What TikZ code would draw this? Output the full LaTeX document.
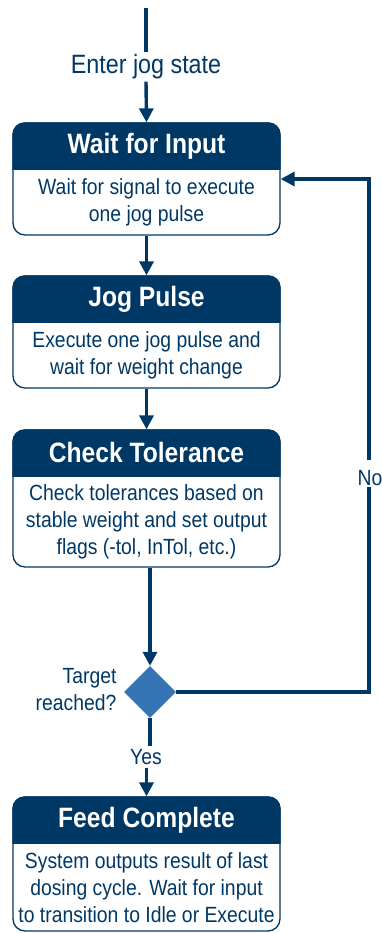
\documentclass[tikz,border=0pt]{standalone}
\usepackage{fontspec}
\setmainfont[FakeStretch=0.88]{Liberation Sans}
\usetikzlibrary{arrows.meta,calc,shapes.geometric}
\definecolor{navy}{HTML}{003865}
\definecolor{diablue}{HTML}{3574B4}
\newcommand\stbox[5]{%
  \node[box,minimum height=#3pt] (#1) at (146.5,#2) {};
  \begin{scope}
    \clip (#1.north west) rectangle ($(#1.north east)+(0,47)$);
    \fill[navy,rounded corners=12pt] (#1.north west) rectangle (#1.south east);
  \end{scope}
  \node[ttl] (#1t) at ($(#1.north)+(0,23.5)$) {#4};
  \node[desc] (#1d) at ($(#1.center)+(0,23.5)$) {#5};
}
\begin{document}
\begin{tikzpicture}[x=1pt,y=-1pt,
  box/.style={draw=navy,line width=1.3pt,rounded corners=12pt,minimum width=267pt,inner sep=0pt},
  ttl/.style={text=white,font=\fontsize{28}{31}\selectfont\bfseries},
  desc/.style={text=navy,font=\fontsize{22}{27}\selectfont,align=center},
  lbl/.style={text=navy,font=\fontsize{22}{27}\selectfont},
  biglbl/.style={text=navy,font=\fontsize{26.5}{30}\selectfont},
  flow/.style={draw=navy,line width=3.4pt},
  arr/.style={flow,-{Triangle[length=14pt,width=14pt]}},
]
\useasboundingbox (0,0) rectangle (381,933);

\stbox{b1}{179}{112}{Wait for Input}{Wait for signal to execute\\one jog pulse}
\stbox{b2}{332}{112}{Jog Pulse}{Execute one jog pulse and\\wait for weight change}
\stbox{b3}{498.5}{137}{Check Tolerance}{Check tolerances based on\\stable weight and set output\\flags (-tol, InTol, etc.)}
\stbox{b4}{864}{134}{Feed Complete}{System outputs result of last\\dosing cycle. Wait for input\\to transition to Idle or Execute}

\node[diamond,fill=diablue,minimum width=52pt,minimum height=52pt,inner sep=0pt] (d) at (150,692) {};

\coordinate (top) at (146,8);
\node[biglbl,inner sep=2pt] (enter) at (146,67) {Enter jog state};
\node[lbl,align=right,anchor=east] (q) at (120,690) {Target\\reached?};
\node[lbl] (yes) at (146,757) {Yes};
\node[lbl,anchor=west] (no) at (354,478) {No};

\coordinate (r1) at (369,692);
\coordinate (g1) at (369,487);
\coordinate (g2) at (369,460);
\coordinate (r2) at (369,179);

\draw[flow] (top) -- (enter.north);
\draw[arr] (enter.south) -- (b1.north);
\draw[arr] (b1.south) -- (b2.north);
\draw[arr] (b2.south) -- (b3.north);
\draw[arr] (b3.south -| d.north) -- (d.north);
\draw[flow] (d.south) -- (d.south |- yes.north);
\draw[arr] (yes.south -| b4.north) -- (b4.north);
\draw[flow] (d.east) -- (r1) -- (g1);
\draw[arr] (g2) -- (r2) -- (r2 -| b1.east);
\end{tikzpicture}
\end{document}
